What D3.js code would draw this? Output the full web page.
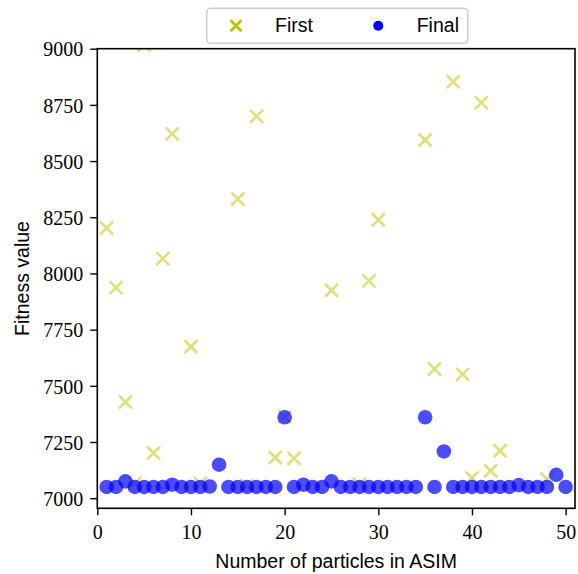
<!DOCTYPE html>
<html>
<head>
<meta charset="utf-8">
<script src="https://cdn.jsdelivr.net/npm/d3@7"></script>
<style>
  body { margin: 0; background: #fff; }
  svg { display: block; }
</style>
</head>
<body>
<svg id="chart"></svg>
<script>
const width = 578, height = 574;

// particle counts on the x axis
const particles = [1, 2, 3, 4, 5, 6, 7, 8, 9, 10,
  11, 12, 13, 14, 15, 16, 17, 18, 19, 20,
  21, 22, 23, 24, 25, 26, 27, 28, 29, 30,
  31, 32, 33, 34, 35, 36, 37, 38, 39, 40,
  41, 42, 43, 44, 45, 46, 47, 48, 49, 50];

// fitness of the first solution (null = hidden / not seen)
const firstValues = [8202, 7937, 7428, 7065, 9016, 7201, 8066, 8621, null, 7674,
  7066, null, null, null, 8331, 7055, 8699, null, 7181, 7362,
  7178, null, null, null, 7925, null, null, 7062, 7967, 8239,
  null, null, null, null, 8594, 7575, null, 8853, 7551, 7090,
  8760, 7122, 7211, null, null, null, null, 7085, null, null];

// fitness of the final solution
const finalValues = [7050, 7050, 7075, 7050, 7050, 7050, 7050, 7060, 7050, 7050,
  7050, 7052, 7149, 7050, 7050, 7050, 7050, 7050, 7050, 7360,
  7050, 7060, 7050, 7050, 7075, 7050, 7050, 7050, 7050, 7050,
  7050, 7050, 7050, 7050, 7360, 7050, 7208, 7050, 7050, 7050,
  7050, 7050, 7050, 7050, 7058, 7050, 7050, 7050, 7104, 7050];

const yTicks = [7000, 7250, 7500, 7750, 8000, 8250, 8500, 8750, 9000];
const xTicks = [0, 10, 20, 30, 40, 50];

const margin = {left: 97.3, right: 3, top: 48.7, bottom: 65.7};
const plotW = width - margin.left - margin.right;
const plotH = height - margin.top - margin.bottom;

const svg = d3.select("#chart")
  .attr("width", width)
  .attr("height", height);

const g = svg.append("g")
  .attr("transform", `translate(${margin.left},${margin.top})`);

const x = d3.scaleLinear().domain([0, 51]).range([0, plotW]);
const y = d3.scaleLinear().domain([6955, 9000]).range([plotH, 0]);

g.append("clipPath").attr("id", "plot-clip")
  .append("rect").attr("width", plotW).attr("height", plotH);

const marks = g.append("g").attr("clip-path", "url(#plot-clip)");

// First: yellow crosses, drawn under the final points
const firstData = particles.map((p, i) => ({p: p, v: firstValues[i]})).filter(d => d.v != null);
const cross = "M-6.5,-6.5L6.5,6.5M-6.5,6.5L6.5,-6.5";
marks.selectAll(".first")
  .data(firstData)
  .enter().append("path")
  .attr("class", "first")
  .attr("d", cross)
  .attr("transform", d => `translate(${x(d.p)},${y(d.v)})`)
  .attr("fill", "none")
  .attr("stroke", "#bfbf00")
  .attr("stroke-width", 2.7)
  .attr("opacity", 0.5);

// Final: blue dots
marks.selectAll(".final")
  .data(particles.map((p, i) => ({p: p, v: finalValues[i]})))
  .enter().append("circle")
  .attr("class", "final")
  .attr("cx", d => x(d.p))
  .attr("cy", d => y(d.v))
  .attr("r", 7.3)
  .attr("fill", "#0000ff")
  .attr("fill-opacity", 0.7);

// axes
const xAxis = g.append("g")
  .attr("transform", `translate(0,${plotH})`)
  .call(d3.axisBottom(x).tickValues(xTicks).tickFormat(d3.format("d"))
    .tickSizeInner(7).tickSizeOuter(0).tickPadding(5));
const yAxis = g.append("g")
  .call(d3.axisLeft(y).tickValues(yTicks).tickFormat(d3.format("d"))
    .tickSizeInner(7).tickSizeOuter(0).tickPadding(7));

[xAxis, yAxis].forEach(a => {
  a.select(".domain").remove();
  a.selectAll("line").attr("stroke", "#000").attr("stroke-width", 1.4);
  a.selectAll("text")
    .attr("fill", "#000")
    .style("font-family", "'Liberation Serif', serif")
    .style("font-size", "20px");
});
xAxis.selectAll("text").attr("dy", "0.95em");
yAxis.selectAll("text").attr("dy", "0.36em");

// frame
g.append("rect")
  .attr("width", plotW).attr("height", plotH)
  .attr("fill", "none").attr("stroke", "#000").attr("stroke-width", 1.6);

// axis labels
svg.append("text")
  .attr("x", margin.left + plotW / 2)
  .attr("y", 568)
  .attr("text-anchor", "middle")
  .style("font-family", "'Liberation Sans', sans-serif")
  .style("font-size", "19.5px")
  .text("Number of particles in ASIM");

svg.append("text")
  .attr("transform", `translate(28.5,${margin.top + plotH / 2}) rotate(-90)`)
  .attr("text-anchor", "middle")
  .style("font-family", "'Liberation Sans', sans-serif")
  .style("font-size", "19.5px")
  .text("Fitness value");

// legend
const legend = svg.append("g").attr("transform", "translate(206.7,8.3)");
legend.append("rect")
  .attr("width", 261).attr("height", 35).attr("rx", 4)
  .attr("fill", "#fff").attr("fill-opacity", 0.8)
  .attr("stroke", "#cccccc").attr("stroke-width", 1.5);

legend.append("path")
  .attr("d", "M-5.5,-5.5L5.5,5.5M-5.5,5.5L5.5,-5.5")
  .attr("transform", "translate(29.3,17.4)")
  .attr("stroke", "#bfbf00").attr("stroke-width", 3).attr("fill", "none");
legend.append("text")
  .attr("x", 68.3).attr("y", 24.2)
  .style("font-family", "'Liberation Sans', sans-serif")
  .style("font-size", "19.5px")
  .text("First");

legend.append("circle")
  .attr("cx", 171.6).attr("cy", 17.4).attr("r", 5)
  .attr("fill", "#0000ff");
legend.append("text")
  .attr("x", 210).attr("y", 24.2)
  .style("font-family", "'Liberation Sans', sans-serif")
  .style("font-size", "19.5px")
  .text("Final");
</script>
</body>
</html>
